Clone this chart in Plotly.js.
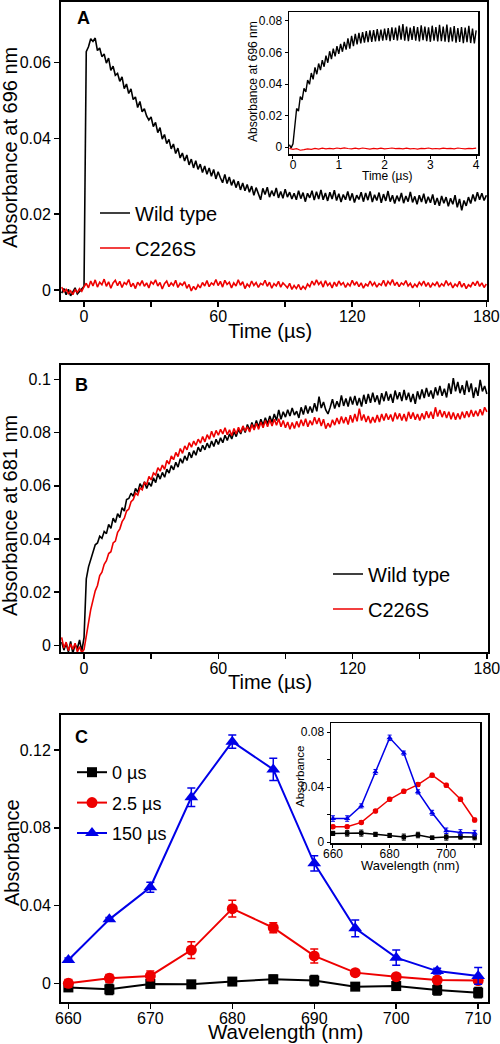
<!DOCTYPE html>
<html><head><meta charset="utf-8">
<script src="https://cdn.plot.ly/plotly-3.0.1.min.js"></script>
<style>html,body{margin:0;padding:0;background:#fff}#chart{width:500px;height:1044px}</style>
</head><body><div id="chart"></div>
<script>
// ---------- Panel A: absorbance at 696 nm, time in µs (start -10, step 1) ----------
const aStart = -10, aStep = 1;
const aWildType = [-0.0008,0.0004,-0.0012,0.0002,-0.0015,-0.0003,0.0006,-0.0010,-0.0004,0.0003,0.0010,
0.0628,0.0641,0.0662,0.0655,0.0664,0.0631,0.0638,0.0615,0.0622,0.0598,
0.0611,0.0579,0.0590,0.0566,0.0571,0.0550,0.0562,0.0531,0.0543,0.0518,
0.0530,0.0502,0.0509,0.0481,0.0497,0.0470,0.0478,0.0459,0.0448,0.0456,
0.0431,0.0442,0.0415,0.0428,0.0398,0.0410,0.0386,0.0397,0.0372,0.0385,
0.0360,0.0374,0.0348,0.0361,0.0340,0.0356,0.0330,0.0345,0.0322,0.0341,
0.0318,0.0332,0.0310,0.0327,0.0305,0.0322,0.0300,0.0318,0.0293,0.0312,
0.0296,0.0283,0.0305,0.0281,0.0298,0.0276,0.0291,0.0270,0.0287,0.0264,
0.0282,0.0262,0.0278,0.0258,0.0274,0.0250,0.0270,0.0255,0.0238,0.0268,
0.0252,0.0271,0.0245,0.0262,0.0248,0.0269,0.0243,0.0260,0.0242,0.0266,
0.0245,0.0258,0.0240,0.0255,0.0238,0.0262,0.0241,0.0257,0.0233,0.0255,
0.0243,0.0262,0.0237,0.0259,0.0240,0.0264,0.0238,0.0256,0.0235,0.0258,
0.0240,0.0263,0.0236,0.0254,0.0232,0.0252,0.0238,0.0260,0.0236,0.0255,
0.0231,0.0250,0.0239,0.0258,0.0233,0.0256,0.0237,0.0260,0.0232,0.0251,
0.0236,0.0257,0.0230,0.0253,0.0235,0.0261,0.0233,0.0250,0.0228,0.0249,
0.0234,0.0256,0.0229,0.0248,0.0233,0.0259,0.0231,0.0247,0.0226,0.0250,
0.0232,0.0254,0.0228,0.0246,0.0230,0.0252,0.0225,0.0243,0.0222,0.0248,
0.0229,0.0245,0.0221,0.0242,0.0226,0.0250,0.0218,0.0240,0.0210,0.0236,
0.0222,0.0245,0.0228,0.0252,0.0234,0.0258,0.0238,0.0255,0.0236,0.0250];
const aC226S = [0.0008,-0.0004,0.0002,-0.0009,-0.0002,-0.0012,0.0001,-0.0006,0.0004,-0.0003,0.0009,
0.0018,0.0006,0.0024,0.0011,0.0027,0.0008,0.0021,0.0014,0.0029,0.0010,
0.0022,0.0005,0.0019,0.0026,0.0012,0.0023,0.0007,0.0020,0.0015,0.0028,
0.0009,0.0018,0.0004,0.0021,0.0013,0.0025,0.0010,0.0019,0.0006,0.0022,
0.0016,0.0027,0.0011,0.0020,0.0003,0.0017,0.0024,0.0009,0.0019,0.0012,
0.0026,0.0007,0.0018,0.0013,0.0022,0.0005,0.0015,-0.0002,0.0010,0.0001,
0.0014,0.0006,0.0020,0.0011,0.0025,0.0009,0.0019,0.0014,0.0028,0.0012,
0.0023,0.0008,0.0026,0.0015,0.0021,0.0006,0.0019,0.0011,0.0027,0.0013,
0.0022,0.0004,0.0016,0.0009,0.0024,0.0012,0.0020,0.0007,0.0018,0.0014,
0.0026,0.0010,0.0021,0.0005,0.0017,0.0011,0.0023,0.0008,0.0019,0.0013,
0.0006,0.0018,0.0002,0.0012,0.0004,0.0015,0.0001,0.0010,0.0003,0.0016,
0.0009,0.0024,0.0013,0.0027,0.0015,0.0022,0.0008,0.0025,0.0012,0.0019,
0.0006,0.0021,0.0010,0.0024,0.0014,0.0020,0.0007,0.0018,0.0011,0.0026,
0.0013,0.0022,0.0009,0.0019,0.0005,0.0016,0.0011,0.0024,0.0012,0.0020,
0.0008,0.0017,0.0013,0.0026,0.0010,0.0023,0.0015,0.0028,0.0012,0.0021,
0.0009,0.0019,0.0014,0.0025,0.0011,0.0018,0.0006,0.0016,0.0009,0.0021,
0.0013,0.0024,0.0010,0.0020,0.0007,0.0018,0.0012,0.0022,0.0008,0.0017,
0.0011,0.0025,0.0013,0.0019,0.0006,0.0016,0.0010,0.0023,0.0008,0.0018,
0.0004,0.0014,0.0009,0.0021,0.0012,0.0024,0.0010,0.0019,0.0007,0.0016];

// ---------- Inset A: first 4 µs ----------
const insWTStart = -0.08, insWTStep = 0.04;
const insWildType = [0.0015,-0.0005,0.0020,0.0150,0.0245,0.0228,0.0320,0.0300,0.0372,0.0350,
0.0425,0.0398,0.0470,0.0430,0.0505,0.0462,0.0530,0.0488,0.0552,0.0510,
0.0580,0.0535,0.0608,0.0558,0.0625,0.0575,0.0640,0.0592,0.0655,0.0605,
0.0668,0.0618,0.0690,0.0625,0.0705,0.0640,0.0718,0.0652,0.0725,0.0658,
0.0730,0.0662,0.0735,0.0665,0.0740,0.0668,0.0742,0.0670,0.0748,0.0672,
0.0745,0.0675,0.0752,0.0678,0.0755,0.0672,0.0760,0.0680,0.0758,0.0676,
0.0770,0.0682,0.0780,0.0675,0.0765,0.0672,0.0758,0.0680,0.0768,0.0675,
0.0762,0.0670,0.0772,0.0678,0.0765,0.0672,0.0760,0.0668,0.0770,0.0675,
0.0762,0.0670,0.0775,0.0672,0.0765,0.0668,0.0778,0.0665,0.0760,0.0670,
0.0768,0.0662,0.0755,0.0668,0.0762,0.0660,0.0758,0.0665,0.0770,0.0660,
0.0752,0.0658,0.0740];
const insCStart = -0.08, insCStep = 0.08;
const insC226S = [-0.0008,-0.0014,-0.0010,-0.0020,-0.0016,-0.0011,-0.0015,-0.0009,-0.0013,-0.0007,
-0.0012,-0.0008,-0.0011,-0.0006,-0.0010,-0.0005,-0.0009,-0.0012,-0.0007,-0.0011,
-0.0006,-0.0010,-0.0013,-0.0008,-0.0011,-0.0007,-0.0012,-0.0009,-0.0006,-0.0010,
-0.0008,-0.0012,-0.0007,-0.0011,-0.0009,-0.0013,-0.0008,-0.0010,-0.0006,-0.0011,
-0.0009,-0.0012,-0.0007,-0.0010,-0.0008,-0.0011,-0.0006,-0.0009,-0.0012,-0.0008,
-0.0010,-0.0007];

// ---------- Panel B: absorbance at 681 nm (start -10, step 1) ----------
const bStart = -10, bStep = 1;
const bWildType = [0.0012,-0.0018,0.0008,-0.0025,0.0015,-0.0030,0.0004,-0.0012,0.0020,-0.0022,0.0030,
0.0250,0.0295,0.0320,0.0352,0.0378,0.0385,0.0410,0.0402,0.0428,0.0420,
0.0455,0.0440,0.0478,0.0462,0.0495,0.0480,0.0518,0.0505,0.0548,0.0552,
0.0572,0.0560,0.0590,0.0575,0.0608,0.0592,0.0615,0.0590,0.0612,0.0598,
0.0630,0.0612,0.0645,0.0625,0.0650,0.0632,0.0662,0.0648,0.0676,0.0660,
0.0688,0.0670,0.0702,0.0685,0.0712,0.0695,0.0726,0.0705,0.0732,0.0715,
0.0745,0.0728,0.0752,0.0735,0.0760,0.0742,0.0768,0.0748,0.0775,0.0755,
0.0780,0.0762,0.0790,0.0770,0.0795,0.0776,0.0803,0.0785,0.0812,0.0795,
0.0822,0.0800,0.0830,0.0808,0.0838,0.0815,0.0845,0.0820,0.0850,0.0828,
0.0856,0.0832,0.0862,0.0838,0.0870,0.0845,0.0885,0.0850,0.0878,0.0858,
0.0886,0.0862,0.0892,0.0866,0.0880,0.0855,0.0895,0.0868,0.0902,0.0872,
0.0898,0.0875,0.0910,0.0880,0.0935,0.0892,0.0915,0.0885,0.0870,0.0895,
0.0925,0.0890,0.0918,0.0896,0.0940,0.0900,0.0928,0.0898,0.0935,0.0905,
0.0938,0.0902,0.0930,0.0898,0.0942,0.0908,0.0945,0.0912,0.0950,0.0915,
0.0940,0.0905,0.0948,0.0918,0.0955,0.0920,0.0945,0.0912,0.0958,0.0925,
0.0952,0.0918,0.0960,0.0922,0.0950,0.0915,0.0945,0.0908,0.0955,0.0925,
0.0962,0.0930,0.0968,0.0935,0.0958,0.0928,0.0970,0.0940,0.0975,0.0938,
0.0965,0.0932,0.0985,0.0945,0.1005,0.0955,0.0990,0.0948,0.0978,0.0942,
0.0995,0.0952,0.0985,0.0930,0.0970,0.0938,0.0998,0.0955,0.0975,0.0945];
const bC226S = [0.0030,-0.0010,0.0012,-0.0020,0.0005,-0.0015,0.0008,-0.0025,-0.0005,-0.0028,-0.0015,
0.0040,0.0085,0.0135,0.0170,0.0205,0.0225,0.0262,0.0275,0.0305,0.0318,
0.0345,0.0352,0.0385,0.0392,0.0425,0.0438,0.0465,0.0478,0.0505,0.0512,
0.0540,0.0548,0.0572,0.0565,0.0592,0.0585,0.0612,0.0605,0.0635,0.0622,
0.0648,0.0640,0.0668,0.0655,0.0678,0.0662,0.0695,0.0682,0.0712,0.0698,
0.0725,0.0710,0.0740,0.0722,0.0750,0.0735,0.0762,0.0745,0.0768,0.0752,
0.0775,0.0760,0.0785,0.0765,0.0792,0.0775,0.0805,0.0782,0.0808,0.0790,
0.0812,0.0795,0.0818,0.0792,0.0810,0.0788,0.0815,0.0795,0.0820,0.0800,
0.0825,0.0805,0.0822,0.0802,0.0830,0.0810,0.0835,0.0812,0.0840,0.0818,
0.0845,0.0822,0.0848,0.0825,0.0850,0.0828,0.0852,0.0822,0.0845,0.0818,
0.0840,0.0812,0.0838,0.0815,0.0842,0.0820,0.0848,0.0825,0.0852,0.0822,
0.0845,0.0828,0.0858,0.0832,0.0855,0.0825,0.0850,0.0815,0.0835,0.0820,
0.0848,0.0828,0.0855,0.0832,0.0860,0.0835,0.0858,0.0830,0.0865,0.0838,
0.0870,0.0842,0.0890,0.0845,0.0868,0.0840,0.0862,0.0835,0.0858,0.0838,
0.0866,0.0840,0.0870,0.0845,0.0872,0.0848,0.0868,0.0842,0.0875,0.0850,
0.0872,0.0845,0.0870,0.0842,0.0878,0.0852,0.0875,0.0848,0.0870,0.0845,
0.0872,0.0850,0.0880,0.0855,0.0878,0.0852,0.0895,0.0860,0.0885,0.0858,
0.0880,0.0855,0.0878,0.0850,0.0875,0.0848,0.0872,0.0850,0.0878,0.0855,
0.0880,0.0858,0.0885,0.0860,0.0882,0.0862,0.0888,0.0865,0.0895,0.0878];

// ---------- Panel C: spectra ----------
const wavelength = [660,665,670,675,680,685,690,695,700,705,710];
const c0us = [-0.0021,-0.0031,-0.0003,-0.0005,0.0009,0.0021,0.0014,-0.0017,-0.0014,-0.0034,-0.0048];
const c0usErr = [0.0010,0.0026,0.0015,0.0010,0.0010,0.0020,0.0026,0.0015,0.0020,0.0026,0.0026];
const c25us = [0.0000,0.0026,0.0038,0.0171,0.0384,0.0286,0.0141,0.0055,0.0034,0.0017,0.0014];
const c25usErr = [0.0020,0.0020,0.0025,0.0043,0.0043,0.0026,0.0036,0.0015,0.0015,0.0015,0.0010];
const c150us = [0.0120,0.0329,0.0494,0.0957,0.1243,0.1100,0.0617,0.0283,0.0132,0.0063,0.0038];
const c150usErr = [0.0010,0.0010,0.0026,0.0047,0.0034,0.0057,0.0039,0.0043,0.0039,0.0015,0.0043];
// inset C
const i0us = [0.0063,0.0063,0.0065,0.0056,0.0048,0.0036,0.0051,0.0031,0.0036,0.0039,0.0036];
const i0usErr = [0.0015,0.0020,0.0022,0.0015,0.0015,0.0022,0.0020,0.0012,0.0022,0.0018,0.0020];
const i25us = [0.0111,0.0111,0.0143,0.0225,0.0311,0.0369,0.0418,0.0486,0.0413,0.0311,0.0160];
const i25usErr = [0.0012,0.0012,0.0012,0.0012,0.0014,0.0014,0.0014,0.0014,0.0014,0.0014,0.0014];
const i150us = [0.0171,0.0171,0.0263,0.0510,0.0758,0.0647,0.0365,0.0213,0.0082,0.0070,0.0065];
const i150usErr = [0.0020,0.0020,0.0015,0.0018,0.0020,0.0015,0.0015,0.0018,0.0020,0.0020,0.0020];

// tick labels
const timeTicks = [0,30,60,90,120,150,180];
const timeLabels = ['0','','60','','120','','180'];

// ---------------------------------------------------------------
function seq(start, step, n){ const o=[]; for(let i=0;i<n;i++) o.push(+(start+i*step).toFixed(4)); return o; }
const BLACK='#000000', RED='rgb(238,0,0)', BLUE='rgb(0,0,232)';
const FONT='"Liberation Sans", Arial, Helvetica, sans-serif';

const traces = [
  {x:seq(aStart,aStep,aWildType.length), y:aWildType, xaxis:'x', yaxis:'y', mode:'lines', name:'Wild type', line:{color:BLACK,width:1.6}, legend:'legend', legendgroup:'a1'},
  {x:seq(aStart,aStep,aC226S.length), y:aC226S, xaxis:'x', yaxis:'y', mode:'lines', name:'C226S', line:{color:RED,width:1.6}, legend:'legend', legendgroup:'a2'},
  {x:seq(insWTStart,insWTStep,insWildType.length), y:insWildType, xaxis:'x2', yaxis:'y2', mode:'lines', line:{color:BLACK,width:1.4}, showlegend:false},
  {x:seq(insCStart,insCStep,insC226S.length), y:insC226S, xaxis:'x2', yaxis:'y2', mode:'lines', line:{color:RED,width:1.2}, showlegend:false},
  {x:seq(bStart,bStep,bWildType.length), y:bWildType, xaxis:'x3', yaxis:'y3', mode:'lines', name:'Wild type', line:{color:BLACK,width:1.6}, legend:'legend2', legendgroup:'b1'},
  {x:seq(bStart,bStep,bC226S.length), y:bC226S, xaxis:'x3', yaxis:'y3', mode:'lines', name:'C226S', line:{color:RED,width:1.6}, legend:'legend2', legendgroup:'b2'},
  {x:wavelength, y:c0us, xaxis:'x4', yaxis:'y4', mode:'lines+markers', name:'0 µs', line:{color:BLACK,width:2}, marker:{symbol:'square',size:10,color:BLACK},
   error_y:{type:'data',array:c0usErr,visible:true,color:BLACK,thickness:1.5,width:4}, legend:'legend3', legendgroup:'c1'},
  {x:wavelength, y:c25us, xaxis:'x4', yaxis:'y4', mode:'lines+markers', name:'2.5 µs', line:{color:RED,width:2}, marker:{symbol:'circle',size:11,color:RED},
   error_y:{type:'data',array:c25usErr,visible:true,color:RED,thickness:1.5,width:4}, legend:'legend3', legendgroup:'c2'},
  {x:wavelength, y:c150us, xaxis:'x4', yaxis:'y4', mode:'lines+markers', name:'150 µs', line:{color:BLUE,width:2}, marker:{symbol:'triangle-up',size:12,color:BLUE},
   error_y:{type:'data',array:c150usErr,visible:true,color:BLUE,thickness:1.5,width:4}, legend:'legend3', legendgroup:'c3'},
  {x:wavelength, y:i0us, xaxis:'x5', yaxis:'y5', mode:'lines+markers', line:{color:BLACK,width:1.5}, marker:{symbol:'square',size:4.5,color:BLACK},
   error_y:{type:'data',array:i0usErr,visible:true,color:BLACK,thickness:1,width:2}, showlegend:false},
  {x:wavelength, y:i25us, xaxis:'x5', yaxis:'y5', mode:'lines+markers', line:{color:RED,width:1.5}, marker:{symbol:'circle',size:5.5,color:RED},
   error_y:{type:'data',array:i25usErr,visible:true,color:RED,thickness:1,width:2}, showlegend:false},
  {x:wavelength, y:i150us, xaxis:'x5', yaxis:'y5', mode:'lines+markers', line:{color:BLUE,width:1.5}, marker:{symbol:'triangle-up',size:5.5,color:BLUE},
   error_y:{type:'data',array:i150usErr,visible:true,color:BLUE,thickness:1,width:2}, showlegend:false}
];

function axis(domain, range, anchor, tickvals, ticktext, opt){
  opt = opt || {};
  return Object.assign({
    domain:domain, range:range, anchor:anchor, showgrid:false, zeroline:false,
    showline:true, mirror:true, linecolor:'#000', linewidth:2,
    ticks:'outside', ticklen:5, tickwidth:1.5, tickcolor:'#000',
    tickmode:'array', tickvals:tickvals, ticktext:ticktext, ticklabeloverflow:'allow',
    tickfont:{family:FONT, size:16, color:'#000'}, fixedrange:true, automargin:false
  }, opt);
}
const py = (top, bottom) => [1-bottom/1044, 1-top/1044];
const px = (l, r) => [l/500, r/500];
const xlab = {ticklabelstandoff:-4};
const small = {linewidth:1.5, ticklen:3, tickwidth:1, tickfont:{family:FONT,size:12,color:'#000'}};
const smallX = Object.assign({}, small, {ticklabelstandoff:-4, tickfont:{family:FONT,size:12,color:'#000'}});

const layout = {
  width:500, height:1044, margin:{l:0,r:0,t:0,b:0},
  paper_bgcolor:'#fff', plot_bgcolor:'#fff',
  font:{family:FONT, color:'#000'},
  xaxis: axis(px(61,487), [-10.3,180.3], 'y', timeTicks, timeLabels, xlab),
  yaxis: axis(py(2,300), [-0.0026,0.0759], 'x', [0,0.02,0.04,0.06], ['0','0.02','0.04','0.06']),
  xaxis2: axis(px(289,478), [-0.087,4.04], 'y2', [0,1,2,3,4], ['0','1','2','3','4'], smallX),
  yaxis2: axis(py(12,154), [-0.0044,0.0857], 'x2', [0,0.02,0.04,0.06,0.08], ['0','0.02','0.04','0.06','0.08'], small),
  xaxis3: axis(px(61,488), [-10.3,180.5], 'y3', timeTicks, timeLabels, xlab),
  yaxis3: axis(py(365,652), [-0.0025,0.1054], 'x3', [0,0.02,0.04,0.06,0.08,0.1], ['0','0.02','0.04','0.06','0.08','0.1']),
  xaxis4: axis(px(61,488), [659.1,711.2], 'y4', [660,670,680,690,700,710], ['660','670','680','690','700','710'], xlab),
  yaxis4: axis(py(715,1002), [-0.0096,0.138], 'x4', [0,0.04,0.08,0.12], ['0','0.04','0.08','0.12']),
  xaxis5: axis(px(331,480), [659.3,711.9], 'y5', [660,670,680,690,700,710], ['660','','680','','700',''], smallX),
  yaxis5: axis(py(723,843), [-0.0007,0.0866], 'x5', [0,0.02,0.04,0.06,0.08], ['0','','0.04','','0.08'], small),
  legend: {x:0.19, xanchor:'left', y:1-230.5/1044, yanchor:'middle', font:{family:FONT,size:20,color:'#000'}, bgcolor:'rgba(0,0,0,0)', tracegroupgap:6},
  legend2:{x:0.656, xanchor:'left', y:1-591.5/1044, yanchor:'middle', font:{family:FONT,size:20,color:'#000'}, bgcolor:'rgba(0,0,0,0)', tracegroupgap:6},
  legend3:{x:0.144, xanchor:'left', y:1-803/1044, yanchor:'middle', font:{family:FONT,size:18,color:'#000'}, bgcolor:'rgba(0,0,0,0)', tracegroupgap:4},
  annotations: [
    {text:'<b>A</b>', x:83/500, y:1-18/1044, font:{size:18}},
    {text:'<b>B</b>', x:81/500, y:1-385/1044, font:{size:18}},
    {text:'<b>C</b>', x:81/500, y:1-737/1044, font:{size:18}},
    {text:'Absorbance at 696 nm', x:10/500, y:1-148/1044, textangle:-90, font:{size:20}},
    {text:'Time (µs)', x:270/500, y:1-331/1044, font:{size:20}},
    {text:'Absorbance at 696 nm', x:253/500, y:1-82/1044, textangle:-90, font:{size:12}},
    {text:'Time (µs)', x:387/500, y:1-176/1044, font:{size:12}},
    {text:'Absorbance at 681 nm', x:10/500, y:1-516/1044, textangle:-90, font:{size:20}},
    {text:'Time (µs)', x:270/500, y:1-682/1044, font:{size:20}},
    {text:'Absorbance', x:12/500, y:1-853/1044, textangle:-90, font:{size:20}},
    {text:'Wavelength (nm)', x:285/500, y:0, yanchor:'bottom', borderpad:0, font:{size:20.5}},
    {text:'Absorbance', x:300/500, y:1-777/1044, textangle:-90, font:{size:11.5}},
    {text:'Wavelength (nm)', x:410/500, y:1-865/1044, font:{size:13}}
  ].map(a => Object.assign({xref:'paper', yref:'paper', xanchor:'center', yanchor:'middle', showarrow:false}, a,
        {font:Object.assign({family:FONT,color:'#000'}, a.font)}))
};

Plotly.newPlot('chart', traces, layout, {staticPlot:true, displayModeBar:false});
</script></body></html>
